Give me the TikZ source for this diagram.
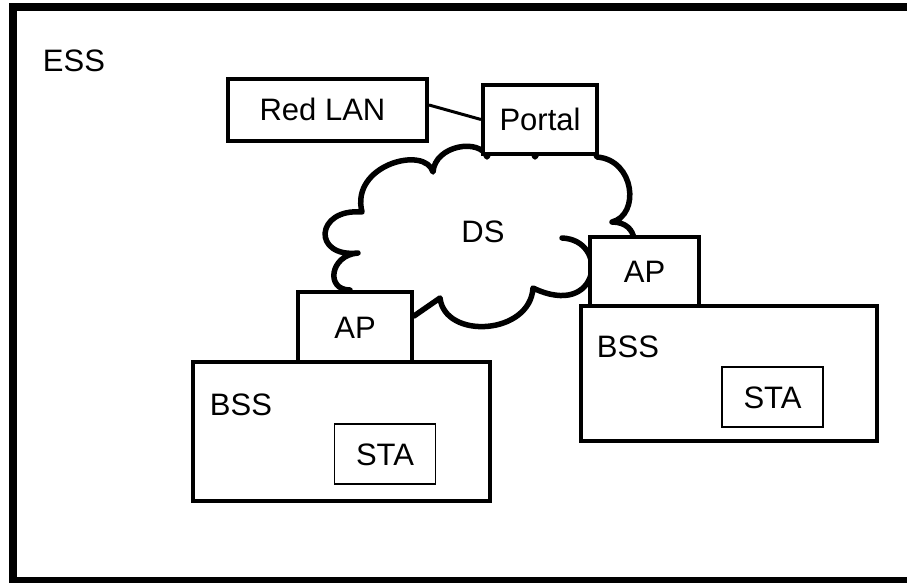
\documentclass[tikz,border=0pt]{standalone}
\usepackage{fontspec}
\setmainfont{Liberation Sans}
\usetikzlibrary{backgrounds}
\begin{document}
\begin{tikzpicture}[x=1pt,y=-1pt,
  every node/.style={font=\fontsize{31}{37}\selectfont},
  box/.style={draw,line width=4pt,fill=white,inner sep=0pt,text height=22pt,text depth=0pt},
  stabox/.style={draw,line width=1.3pt,fill=white,inner sep=0pt,text height=22pt,text depth=0pt,minimum width=101pt,minimum height=60pt},
  txt/.style={anchor=base,inner sep=0pt},
  cloudline/.style={line width=5.5pt,line cap=round,line join=round}]
\useasboundingbox (0,0) rectangle (907,583);
\clip (0,0) rectangle (907,583);
\draw[line width=8pt] (13,7) rectangle (930,581);
\node[txt] (ess) at (74,72) {ESS};
% Red LAN and Portal
\node[box,minimum width=199pt,minimum height=62pt] (lan) at (327.5,110) {\hspace*{-10pt}Red LAN};
\node[box,minimum width=114pt,minimum height=69pt] (portal) at (540,119.5) {Portal};
\draw[line width=3pt] ([yshift=5pt]lan.east) -- (portal.west);
% left BSS
\node[box,minimum width=297pt,minimum height=139pt] (bssL) at (341.5,431.5) {};
\node[box,minimum width=114pt,minimum height=70pt] (apL) at (355,327) {AP};
\node[txt] (bssLt) at (241,415) {BSS};
\node[stabox] (staL) at (385,454) {STA};
% right BSS
\node[box,minimum width=296pt,minimum height=135pt] (bssR) at (729,373.5) {};
\node[box,minimum width=109pt,minimum height=69pt] (apR) at (644.5,271.5) {AP};
\node[txt] (bssRt) at (628,357) {BSS};
\node[stabox] (staR) at (772.5,397) {STA};
% cloud
\node[txt] (ds) at (483,242) {DS};
\begin{pgfonlayer}{background}
\draw[cloudline] ([xshift=-5pt]apL.north) .. controls (325,290) and (330,255) .. (358,253)
 .. controls (312,258) and (315,208) .. (362,212)
 .. controls (350,165) and (425,145) .. (433,172)
 .. controls (435,145) and (480,138) .. (487,157)
 .. controls (495,135) and (527,135) .. (535,157)
 .. controls (545,135) and (590,135) .. (597,157)
 .. controls (635,160) and (640,215) .. (612,222)
 .. controls (640,222) and (640,255) .. (618,255);
\draw[cloudline] (562,238) .. controls (610,240) and (600,320) .. (533,288)
 .. controls (530,335) and (445,340) .. (440,298) -- ([yshift=11pt]apL.east);
\end{pgfonlayer}
\end{tikzpicture}
\end{document}
